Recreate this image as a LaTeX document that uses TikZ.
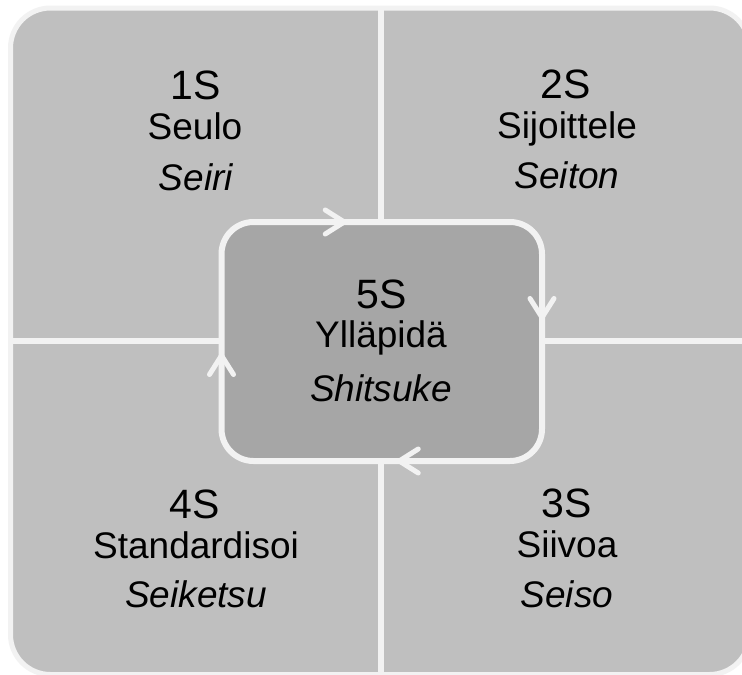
\documentclass[tikz,border=0pt]{standalone}
\usepackage{fontspec}
\setmainfont{Liberation Sans}
\usetikzlibrary{arrows.meta}
\definecolor{panel}{HTML}{BFBFBF}
\definecolor{hub}{HTML}{A6A6A6}
\definecolor{rim}{HTML}{F2F2F2}

\begin{document}
\begin{tikzpicture}[x=1pt,y=-1pt,
  num/.style={anchor=base,font=\fontsize{41}{41}\selectfont},
  word/.style={anchor=base,font=\fontsize{37}{37}\selectfont},
  jword/.style={anchor=base,font=\fontsize{37}{37}\selectfont\itshape},
  flow/.style={rim,line width=5pt,-{Straight Barb[length=19pt,width=24pt,round]}}]
\useasboundingbox (0,0) rectangle (742,675);
\fill[white] (0,0) rectangle (742,675);
\draw[fill=panel,draw=rim,line width=5pt,rounded corners=40pt] (10.5,8) rectangle (749.5,674.5);
\draw[rim,line width=6pt] (381,8) -- (381,674.5);
\draw[rim,line width=6pt] (10.5,341) -- (749.5,341);

\node[fill=hub,draw=rim,line width=6pt,rounded corners=32pt,minimum width=320.5pt,minimum height=239pt,outer sep=0pt] (c) at (381.75,341.5) {};
\draw[flow] ([xshift=-62pt]c.north) -- ([xshift=-35pt]c.north);
\draw[flow] ([yshift=48pt]c.east) -- ([yshift=21.5pt]c.east);
\draw[flow] ([xshift=42pt]c.south) -- ([xshift=15pt]c.south);
\draw[flow] ([yshift=-38pt]c.west) -- ([yshift=-11.5pt]c.west);

\node[num] (s1) at (196,99) {1S};
\node[word] (w1) at (195,139) {Seulo};
\node[jword] (j1) at (196,190) {Seiri};

\node[num] (s2) at (566,98) {2S};
\node[word] (w2) at (567,138) {Sijoittele};
\node[jword] (j2) at (567,188) {Seiton};

\node[num] (s3) at (567,517) {3S};
\node[word] (w3) at (567,557) {Siivoa};
\node[jword] (j3) at (567,607) {Seiso};

\node[num] (s4) at (195,518) {4S};
\node[word] (w4) at (196,558) {Standardisoi};
\node[jword] (j4) at (196,607) {Seiketsu};

\node[num] (s5) at (382,308) {5S};
\node[word] (w5) at (381,347) {Ylläpidä};
\node[jword] (j5) at (381,401) {Shitsuke};
\end{tikzpicture}
\end{document}
